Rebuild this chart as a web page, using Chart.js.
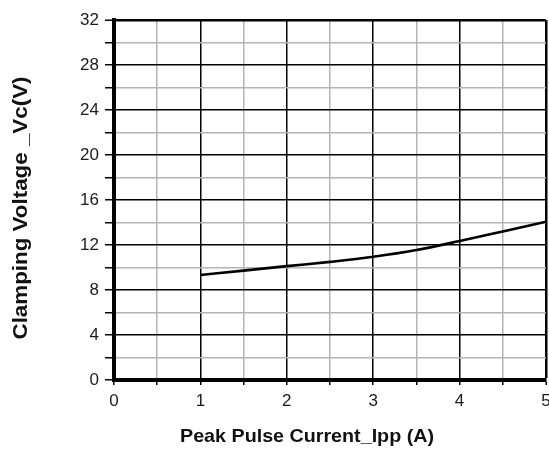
<!DOCTYPE html>
<html><head><meta charset="utf-8">
<script src="https://cdn.jsdelivr.net/npm/chart.js@4"></script>
<style>html,body{margin:0;padding:0;background:#fff}#w{width:549px;height:454px}</style>
</head><body><div id="w"><canvas id="c"></canvas></div>
<script>
const currentIpp = [1, 1.5, 2, 2.5, 3, 3.5, 4, 4.5, 5];
const clampVc = [9.33, 9.72, 10.12, 10.5, 10.95, 11.55, 12.35, 13.2, 14.07];
const xTitle = 'Peak Pulse Current_Ipp (A)';
const yTitle = 'Clamping Voltage _Vc(V)';

function fitText(ctx, text, cx, cy, target) {
  const w = ctx.measureText(text).width;
  ctx.save();
  ctx.translate(cx, cy);
  ctx.scale(target / w, 1);
  ctx.fillText(text, 0, 0);
  ctx.restore();
}

const titlePlugin = {
  id: 'titles',
  afterDraw(chart) {
    const ctx = chart.ctx;
    ctx.save();
    ctx.fillStyle = '#111';
    ctx.textAlign = 'center'; ctx.textBaseline = 'middle';
    ctx.font = 'bold 19px "Liberation Sans", Arial, sans-serif';
    fitText(ctx, xTitle, 307, 437, 254);
    ctx.save();
    ctx.translate(21, 208);
    ctx.rotate(-Math.PI / 2);
    ctx.font = 'bold 20px "Liberation Sans", Arial, sans-serif';
    fitText(ctx, yTitle, 0, 0, 263);
    ctx.restore();
    ctx.restore();
  }
};

new Chart(document.getElementById('c'), {
  type: 'scatter',
  data: { datasets: [{
    data: currentIpp.map((x, i) => ({ x, y: clampVc[i] })),
    showLine: true, borderColor: '#000', borderWidth: 2.6,
    pointRadius: 0, cubicInterpolationMode: 'monotone', fill: false
  }]},
  options: {
    responsive: true, maintainAspectRatio: false, animation: false,
    layout: { padding: { top: 20, right: 3, left: 0, bottom: 0 } },
    plugins: { legend: { display: false }, tooltip: { enabled: false } },
    scales: {
      x: {
        type: 'linear', min: 0, max: 5,
        afterFit(s) { s.height = 74; s.paddingRight = 0; s.paddingLeft = 0; },
        ticks: { stepSize: 0.5, color: '#1a1a22', padding: 6,
          font: { family: '"Liberation Sans", Arial, sans-serif', size: 17 },
          callback: v => Number.isInteger(v) ? String(v) : '' , autoSkip: false, maxRotation: 0 },
        grid: {
          color: c => (c.tick && Number.isInteger(c.tick.value)) ? '#000' : '#b4b4b4',
          lineWidth: c => (c.tick && c.tick.value === 5) ? 2.5 : 1.5,
          tickColor: '#000', tickLength: 5, tickWidth: 1.5
        },
        border: { color: '#000', width: 4 }
      },
      y: {
        type: 'linear', min: 0, max: 32,
        afterFit(s) { s.width = 114; s.paddingTop = 0; s.paddingBottom = 0; },
        ticks: { stepSize: 2, color: '#1a1a22', padding: 6,
          font: { family: '"Liberation Sans", Arial, sans-serif', size: 17 },
          callback: v => v % 4 === 0 ? String(v) : '', autoSkip: false },
        grid: {
          color: c => (c.tick && c.tick.value % 4 === 0) ? '#000' : '#b4b4b4',
          lineWidth: c => (c.tick && c.tick.value === 32) ? 2.5 : 1.5,
          tickColor: '#000', tickLength: 9, tickWidth: 1.5
        },
        border: { color: '#000', width: 4 }
      }
    }
  },
  plugins: [titlePlugin]
});
</script></body></html>
